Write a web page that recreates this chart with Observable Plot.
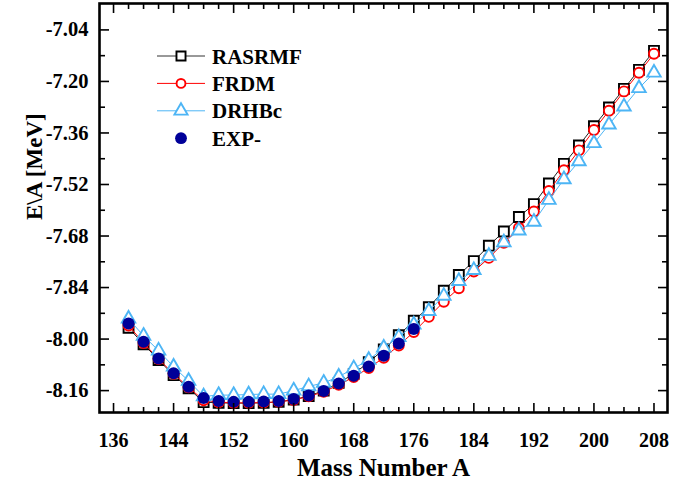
<!DOCTYPE html>
<html><head><meta charset="utf-8">
<script src="https://cdn.jsdelivr.net/npm/d3@7"></script>
<script src="https://cdn.jsdelivr.net/npm/@observablehq/plot@0.6"></script>
<style>
body{margin:0;background:#fff;}
#wrap{position:relative;width:700px;height:492px;}
svg text{font-family:"Liberation Serif","Times New Roman","DejaVu Serif",serif !important;font-weight:bold;}
</style></head><body><div id="wrap"></div>
<script>
const massNumbers = [138,140,142,144,146,148,150,152,154,156,158,160,162,164,166,168,170,172,174,176,178,180,182,184,186,188,190,192,194,196,198,200,202,204,206,208];
const rasrmf = [-7.965,-8.016,-8.065,-8.112,-8.153,-8.196,-8.198,-8.199,-8.199,-8.198,-8.195,-8.188,-8.177,-8.160,-8.136,-8.108,-8.072,-8.032,-7.988,-7.943,-7.901,-7.850,-7.801,-7.758,-7.710,-7.666,-7.621,-7.581,-7.517,-7.456,-7.399,-7.339,-7.281,-7.223,-7.164,-7.105];
const frdm = [-7.958,-8.012,-8.062,-8.108,-8.150,-8.190,-8.196,-8.198,-8.198,-8.197,-8.195,-8.189,-8.178,-8.164,-8.142,-8.118,-8.090,-8.058,-8.020,-7.978,-7.931,-7.884,-7.842,-7.790,-7.748,-7.701,-7.655,-7.604,-7.540,-7.476,-7.414,-7.351,-7.291,-7.231,-7.173,-7.114];
const drhbc = [-7.937,-7.990,-8.036,-8.086,-8.130,-8.178,-8.174,-8.174,-8.172,-8.171,-8.171,-8.160,-8.147,-8.136,-8.117,-8.091,-8.065,-8.027,-7.994,-7.955,-7.913,-7.866,-7.820,-7.786,-7.742,-7.700,-7.663,-7.636,-7.568,-7.504,-7.448,-7.392,-7.334,-7.278,-7.221,-7.173];
const expMass = [138,140,142,144,146,148,150,152,154,156,158,160,162,164,166,168,170,172,174,176];
const expValues = [-7.952,-8.008,-8.060,-8.106,-8.148,-8.183,-8.192,-8.195,-8.195,-8.194,-8.192,-8.186,-8.175,-8.161,-8.138,-8.114,-8.085,-8.052,-8.014,-7.969];
const seriesNames = ["RASRMF","FRDM","DRHBc","EXP-"];
const xMajorTicks = [136,144,152,160,168,176,184,192,200,208];
const xTickLabels = ["136","144","152","160","168","176","184","192","200","208"];
const xMinorTicks = [138,140,142,146,148,150,154,156,158,162,164,166,170,172,174,178,180,182,186,188,190,194,196,198,202,204,206];
const yMajorTicks = [-8.16,-8.00,-7.84,-7.68,-7.52,-7.36,-7.20,-7.04];
const yTickLabels = ["-8.16","-8.00","-7.84","-7.68","-7.52","-7.36","-7.20","-7.04"];
const yMinorTicks = [-8.08,-7.92,-7.76,-7.60,-7.44,-7.28,-7.12];
const xTitle = "Mass Number A";
const yTitle = "E\\A [MeV]";

const font = '"Liberation Serif", "Times New Roman", "DejaVu Serif", serif';
const colors = {r:"#000000", f:"#ff0000", d:"#4db5f5", e:"#000099"};
const rows = massNumbers.map((a,i)=>({a, r:rasrmf[i], f:frdm[i], d:drhbc[i]}));
const exp = expMass.map((a,i)=>({a, e:expValues[i]}));

const tickOpts = {fill:"none", strokeWidth:1.6, label:null};
const plot = Plot.plot({
  width:700, height:492,
  marginLeft:99, marginRight:33, marginTop:3, marginBottom:80,
  style:{fontFamily:font, fontWeight:"bold", background:"#fff", color:"#000"},
  x:{domain:[134.13,209.8]},
  y:{domain:[-8.228,-6.958]},
  marks:[
    Plot.line(rows,{x:"a",y:"r",stroke:"#222",strokeWidth:1}),
    Plot.dot(rows,{x:"a",y:"r",symbol:"square",r:5.6,stroke:colors.r,strokeWidth:1.9,fill:"#fff"}),
    Plot.line(rows,{x:"a",y:"f",stroke:colors.f,strokeWidth:1}),
    Plot.dot(rows,{x:"a",y:"f",symbol:"circle",r:5,stroke:colors.f,strokeWidth:1.9,fill:"#fff"}),
    Plot.line(rows,{x:"a",y:"d",stroke:colors.d,strokeWidth:1}),
    Plot.dot(rows,{x:"a",y:"d",symbol:"triangle",r:5,stroke:colors.d,strokeWidth:1.9,fill:"#fff"}),
    Plot.dot(exp,{x:"a",y:"e",r:6,fill:colors.e}),
    Plot.axisX(xMajorTicks,{anchor:"bottom",tickSize:-9,...tickOpts}),
    Plot.axisX(xMinorTicks,{anchor:"bottom",tickSize:-5,...tickOpts}),
    Plot.axisX(xMajorTicks,{anchor:"top",tickSize:-9,...tickOpts}),
    Plot.axisX(xMinorTicks,{anchor:"top",tickSize:-5,...tickOpts}),
    Plot.axisY(yMajorTicks,{anchor:"left",tickSize:-10,...tickOpts}),
    Plot.axisY(yMinorTicks,{anchor:"left",tickSize:-6,...tickOpts}),
    Plot.axisY(yMajorTicks,{anchor:"right",tickSize:-10,...tickOpts}),
    Plot.axisY(yMinorTicks,{anchor:"right",tickSize:-6,...tickOpts}),
    Plot.axisX(xMajorTicks,{anchor:"bottom",tickSize:0,tickPadding:20,fontSize:20,fontWeight:"bold",tickFormat:(d,i)=>xTickLabels[i],label:null}),
    Plot.axisY(yMajorTicks,{anchor:"left",tickSize:0,tickPadding:11,fontSize:20.5,fontWeight:"bold",tickFormat:(d,i)=>yTickLabels[i],label:null}),
    Plot.text([xTitle],{frameAnchor:"bottom",dy:63,fontSize:25,fontWeight:"bold",fill:"#000"}),
    Plot.text([yTitle],{frameAnchor:"left",rotate:-90,dx:-65,dy:12,fontSize:23,fontWeight:"bold",fill:"#000"}),
    Plot.frame({stroke:"#000",strokeWidth:2.6})
  ]
});
document.getElementById("wrap").appendChild(plot);

// legend
const svg = d3.select(plot);
const lg = svg.append("g").attr("font-size", 21).attr("text-anchor","start");
const legendItems = [
  {name:seriesNames[0], stroke:"#333", sym:d3.symbolSquare, size:82, line:true, fill:"#fff", sc:colors.r},
  {name:seriesNames[1], stroke:colors.f, sym:d3.symbolCircle, size:62, line:true, fill:"#fff", sc:colors.f},
  {name:seriesNames[2], stroke:colors.d, sym:d3.symbolTriangle, size:75, line:true, fill:"#fff", sc:colors.d},
  {name:seriesNames[3], stroke:null, sym:d3.symbolCircle, size:110, line:false, fill:colors.e, sc:"none"}
];
legendItems.forEach((it,i)=>{
  const yy = 56 + i*27.4;
  const g = lg.append("g").attr("transform",`translate(0,${yy})`);
  if (it.line) g.append("line").attr("x1",157).attr("x2",205).attr("y1",0).attr("y2",0).attr("stroke",it.stroke).attr("stroke-width",1);
  g.append("path").attr("d", d3.symbol(it.sym, it.size)()).attr("transform","translate(181,0)")
    .attr("fill", it.fill).attr("stroke", it.sc).attr("stroke-width", it.line?1.9:0);
  g.append("text").attr("x",212).attr("y",7.5).attr("fill","#000").attr("text-anchor","start").text(it.name);
});
svg.selectAll("text").style("font-family", font).style("font-weight","bold");
</script></body></html>
